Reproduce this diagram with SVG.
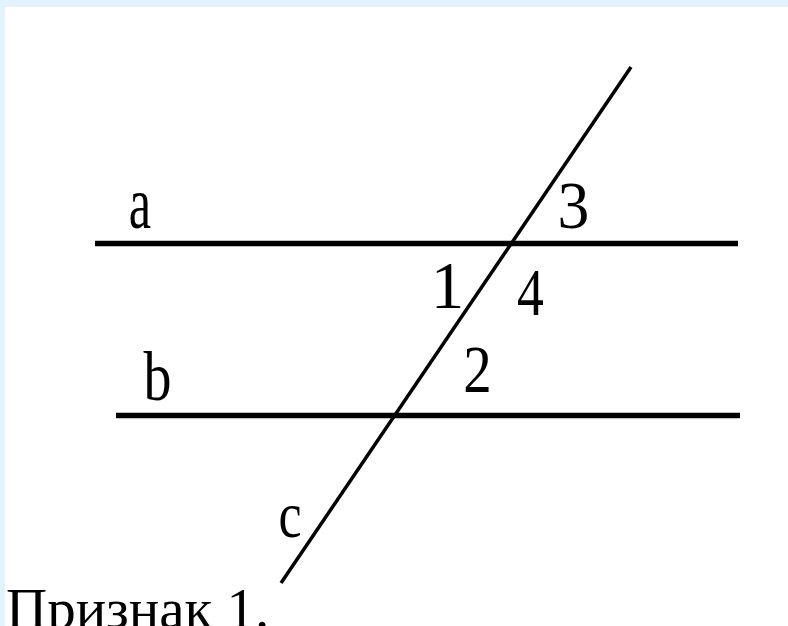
<svg xmlns="http://www.w3.org/2000/svg" width="788" height="626" viewBox="0 0 788 626">
  <style>
    .ln { stroke: #000; stroke-linecap: butt; fill: none; }
    .lbl { font-family: "Liberation Serif", Tinos, "Times New Roman", Times, "Nimbus Roman", "Noto Serif", "DejaVu Serif", FreeSerif, serif; fill: #000; text-anchor: middle; }
    .cap { font-family: "Liberation Serif", Tinos, "Times New Roman", Times, "Nimbus Roman", "Noto Serif", "DejaVu Serif", FreeSerif, serif; fill: #000; }
  </style>
  <rect x="0" y="0" width="788" height="626" fill="#ffffff"/>
  <rect x="0" y="0" width="788" height="7" fill="#e2f3fd"/>
  <rect x="0" y="0" width="5" height="626" fill="#e2f3fd"/>
  <g id="lines">
    <line id="line-a" class="ln" x1="95" y1="243.5" x2="738" y2="243.5" stroke-width="5.5"/>
    <line id="line-b" class="ln" x1="116" y1="415.5" x2="740" y2="415.5" stroke-width="5.5"/>
    <line id="line-c" class="ln" x1="631" y1="67" x2="281" y2="583" stroke-width="3.5"/>
  </g>
  <g id="labels">
    <text class="lbl" font-size="74" transform="translate(140,228) scale(0.68,1)">a</text>
    <text class="lbl" font-size="70" transform="translate(157.5,400) scale(0.8,1)">b</text>
    <text class="lbl" font-size="65" transform="translate(290,537) scale(0.8,1)">c</text>
    <text class="lbl" font-size="67" transform="translate(447.5,308) scale(1,1)">1</text>
    <text class="lbl" font-size="67" transform="translate(477.5,392) scale(0.85,1)">2</text>
    <text class="lbl" font-size="67" transform="translate(573.5,228) scale(0.95,1)">3</text>
    <text class="lbl" font-size="67" transform="translate(530.5,315) scale(0.8,1)">4</text>
  </g>
  <text class="cap" x="6" y="628" font-size="57">Признак 1.</text>
</svg>
